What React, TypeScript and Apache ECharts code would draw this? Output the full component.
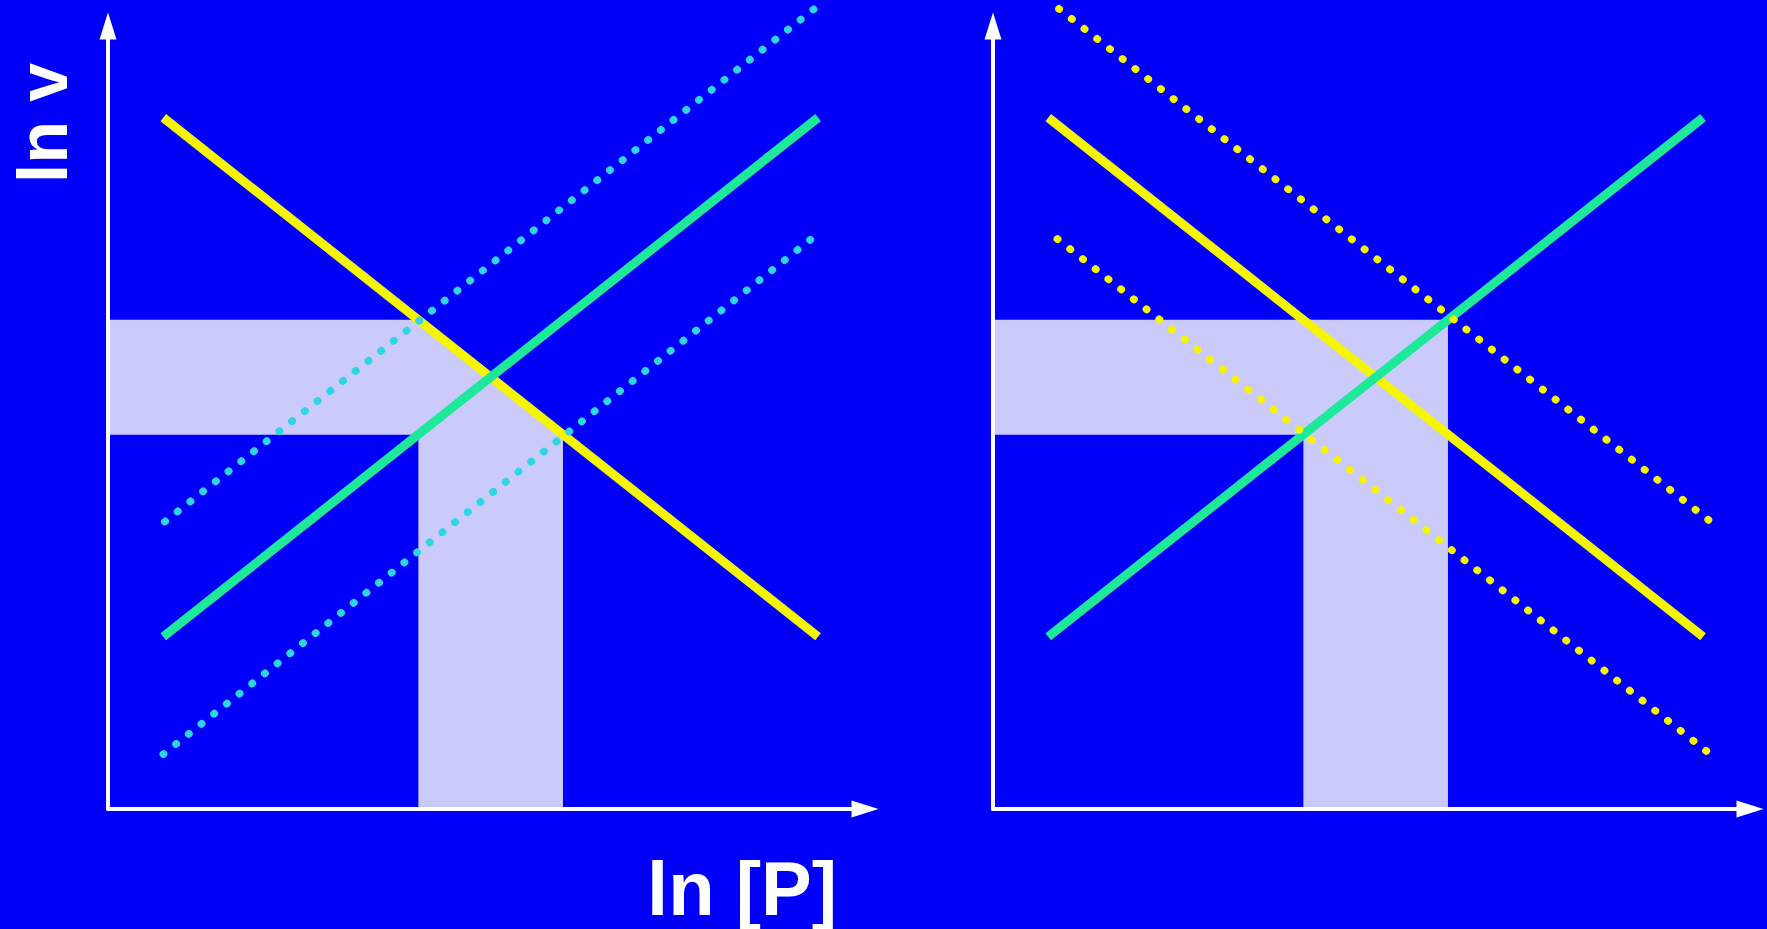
import React, { useEffect, useRef } from "react";
import * as echarts from "echarts";

// ln [P] (x) and ln v (y) end points of each line, in axis units (0–10)
const rateFalling: number[][] = [[0.73, 8.83], [9.38, 2.2]];
const rateRising: number[][] = [[0.73, 2.2], [9.38, 8.83]];
const risingUpper: number[][] = [[0.75, 3.67], [9.33, 10.22]];
const risingLower: number[][] = [[0.73, 0.7], [9.29, 7.28]];
const fallingUpper: number[][] = [[0.87, 10.22], [9.48, 3.67]];
const fallingLower: number[][] = [[0.85, 7.28], [9.45, 0.72]];

// shaded spread of ln v (horizontal band) and ln [P] (vertical band)
const spreadLeft: number[][] = [
  [0, 6.25], [4.1, 6.25], [6.01, 4.78], [6.01, 0], [4.1, 0], [4.1, 4.78], [0, 4.78],
];
const spreadRight: number[][] = [
  [0, 6.25], [6.01, 6.25], [6.01, 0], [4.1, 0], [4.1, 4.78], [0, 4.78],
];

const axisNames = { y: "ln v", x: "ln [P]" };

const BLUE = "#0000fa";
const YELLOW = "#f5f500";
const GREEN = "#1ee89a";
const CYAN = "#2dd6e4";
const LAVENDER = "#cacbfa";
const FONT = "'Liberation Sans', Arial, sans-serif";

export default function App() {
  const ref = useRef<HTMLDivElement>(null);

  useEffect(() => {
    if (!ref.current) return;
    const chart = echarts.init(ref.current, undefined, { renderer: "svg" });

    const axisBase = (gridIndex: number) => ({
      type: "value" as const,
      gridIndex,
      min: 0,
      max: 10,
      z: 5,
      axisLine: {
        show: true,
        symbol: ["none", "triangle"],
        symbolSize: [17, 27],
        lineStyle: { color: "#ffffff", width: 4 },
      },
      axisTick: { show: false },
      axisLabel: { show: false },
      splitLine: { show: false },
    });

    const solid = (data: number[][], color: string, idx: number) => ({
      type: "line" as const,
      xAxisIndex: idx,
      yAxisIndex: idx,
      data,
      symbol: "none",
      clip: false,
      silent: true,
      lineStyle: { color, width: 9, cap: "butt" },
    });

    const dotted = (data: number[][], color: string, idx: number) => ({
      type: "line" as const,
      xAxisIndex: idx,
      yAxisIndex: idx,
      data,
      symbol: "none",
      clip: false,
      silent: true,
      lineStyle: { color, width: 7.5, type: [0.5, 15.7], cap: "round" },
    });

    const band = (points: number[][], idx: number) => ({
      type: "custom" as const,
      xAxisIndex: idx,
      yAxisIndex: idx,
      data: [[0, 0]],
      silent: true,
      renderItem: (_params: any, api: any) => ({
        type: "polygon",
        shape: { points: points.map((p) => api.coord(p)) },
        style: { fill: LAVENDER },
      }),
    });

    chart.setOption({
      animation: false,
      backgroundColor: BLUE,
      grid: [
        { left: 108, top: 26, width: 757, height: 783 },
        { left: 993, top: 26, width: 757, height: 783 },
      ],
      xAxis: [axisBase(0), axisBase(1)],
      yAxis: [axisBase(0), axisBase(1)],
      series: [
        band(spreadLeft, 0),
        solid(rateFalling, YELLOW, 0),
        solid(rateRising, GREEN, 0),
        dotted(risingUpper, CYAN, 0),
        dotted(risingLower, CYAN, 0),
        band(spreadRight, 1),
        solid(rateFalling, YELLOW, 1),
        solid(rateRising, GREEN, 1),
        dotted(fallingUpper, YELLOW, 1),
        dotted(fallingLower, YELLOW, 1),
      ],
      graphic: [
        {
          type: "text",
          x: 43,
          y: 123,
          rotation: Math.PI / 2,
          style: {
            text: axisNames.y,
            fill: "#ffffff",
            font: `bold 70px ${FONT}`,
            align: "center",
            verticalAlign: "middle",
          },
        },
        {
          type: "text",
          x: 742,
          y: 888,
          style: {
            text: axisNames.x,
            fill: "#ffffff",
            font: `bold 76px ${FONT}`,
            align: "center",
            verticalAlign: "middle",
          },
        },
      ],
    });

    return () => chart.dispose();
  }, []);

  return (
    <div
      ref={ref}
      style={{ position: "fixed", left: 0, top: 0, width: 1767, height: 929 }}
    />
  );
}
